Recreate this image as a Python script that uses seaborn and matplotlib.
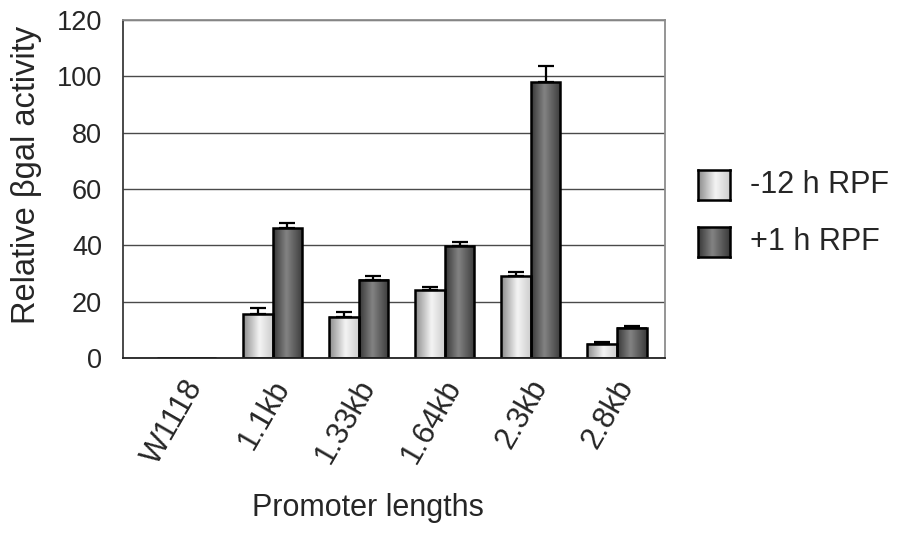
import numpy as np
import pandas as pd
import matplotlib
matplotlib.use("Agg")
import matplotlib.pyplot as plt
import seaborn as sns
from matplotlib.colors import LinearSegmentedColormap
from matplotlib.transforms import ScaledTranslation

# Data
promoters = ["W1118", "1.1kb", "1.33kb", "1.64kb", "2.3kb", "2.8kb"]
series = ["-12 h RPF", "+1 h RPF"]
minus12 = [0, 15.6, 14.6, 24.1, 29.1, 5.0]
minus12_err = [0, 2.1, 1.7, 1.1, 1.4, 0.7]
plus1 = [0, 46.1, 27.7, 39.8, 97.9, 10.8]
plus1_err = [0, 1.9, 1.4, 1.4, 5.9, 0.6]
yticks = [0, 20, 40, 60, 80, 100, 120]

sns.set_theme(style="white")
plt.rcParams["font.family"] = ["Liberation Sans", "DejaVu Sans"]
FS = 22
FS_Y = 19.5
FS_YLAB = 23.5

df = pd.DataFrame({
    "promoter": promoters * 2,
    "series": [series[0]] * len(promoters) + [series[1]] * len(promoters),
    "activity": minus12 + plus1,
    "err": minus12_err + plus1_err,
})

# cylinder-like shading for the two series
cmaps = [
    LinearSegmentedColormap.from_list("light", [(0, "#8a8a8a"), (0.55, "#f4f4f4"), (1, "#cdcdcd")]),
    LinearSegmentedColormap.from_list("dark", [(0, "#363636"), (0.45, "#838383"), (1, "#3a3a3a")]),
]
grad = np.linspace(0, 1, 256).reshape(1, -1)

fig = plt.figure(figsize=(9.12, 5.33), dpi=100)
ax = fig.add_axes([123 / 912, 1 - 358 / 533, 542 / 912, 338 / 533])

sns.barplot(data=df, x="promoter", y="activity", hue="series",
            order=promoters, hue_order=series, width=0.686,
            palette=["#dddddd", "#666666"], edgecolor="black", linewidth=1.8,
            errorbar=None, legend=False, ax=ax)

# replace flat fills with gradients and add upward error bars
centers = {0: [], 1: []}
for p in list(ax.patches):
    x0, w, h = p.get_x(), p.get_width(), p.get_height()
    xc = x0 + w / 2
    idx = int(round(xc))
    s = 0 if xc < idx else 1
    p.set_facecolor("none")
    p.set_zorder(2)
    if h > 0:
        ax.imshow(grad, extent=[x0, x0 + w, 0, h], aspect="auto",
                  cmap=cmaps[s], zorder=1.5, interpolation="bicubic")
    centers[s].append((idx, xc))

for s, (vals, errs) in enumerate([(minus12, minus12_err), (plus1, plus1_err)]):
    xs = dict(centers[s])
    pts = [(xs[i], vals[i], errs[i]) for i in range(len(promoters)) if vals[i] > 0]
    px, py, pe = zip(*pts)
    ax.errorbar(px, py, yerr=[np.zeros(len(pe)), pe], fmt="none", ecolor="black",
                elinewidth=1.6, capsize=5.5, capthick=1.6, zorder=3)

ax.set_xlim(-0.737, 5.557)
ax.set_ylim(0, 120)
ax.set_yticks(yticks)
ax.set_yticklabels([str(t) for t in yticks], fontsize=FS_Y)
ax.yaxis.grid(True, color="#4a4a4a", linewidth=1.0)
ax.set_axisbelow(True)

ax.spines["left"].set_color("#3a3a3a")
ax.spines["bottom"].set_color("#222222")
ax.spines["top"].set_color("#8c8c8c")
ax.spines["right"].set_color("#8c8c8c")
for sp in ax.spines.values():
    sp.set_linewidth(1.3)
    sp.set_visible(True)

ax.tick_params(axis="y", length=0, pad=15)
ax.tick_params(axis="x", which="major", length=0, pad=12)
ax.set_xticks([5.557], minor=True)
ax.tick_params(axis="x", which="minor", length=8, width=1.2, color="#222222", direction="out")

ax.set_xlabel("")
ax.set_ylabel("Relative βgal activity", fontsize=FS_YLAB)
ax.yaxis.set_label_coords(-0.1494, 0.541)

ax.set_xticks(range(len(promoters)))
ax.set_xticklabels(promoters, fontsize=FS)
offset = ScaledTranslation(-3 / 100, 0, fig.dpi_scale_trans)
for lab in ax.get_xticklabels():
    lab.set_rotation(60)
    lab.set_ha("right")
    lab.set_va("top")
    lab.set_rotation_mode("anchor")
    lab.set_transform(lab.get_transform() + offset)

fig.text(368 / 912, 1 - 508 / 533, "Promoter lengths", ha="center", va="center", fontsize=FS)

# legend drawn as shaded swatches with labels
for s, (name, ytop) in enumerate(zip(series, [170, 227])):
    sw = fig.add_axes([698 / 912, 1 - (ytop + 30) / 533, 32 / 912, 30 / 533])
    sw.imshow(grad, aspect="auto", cmap=cmaps[s], interpolation="bicubic")
    sw.set_xticks([])
    sw.set_yticks([])
    for sp in sw.spines.values():
        sp.set_color("black")
        sp.set_linewidth(1.8)
    fig.text(750 / 912, 1 - (ytop + 15) / 533, name, ha="left", va="center", fontsize=FS)

fig.savefig("out.png", dpi=100)
